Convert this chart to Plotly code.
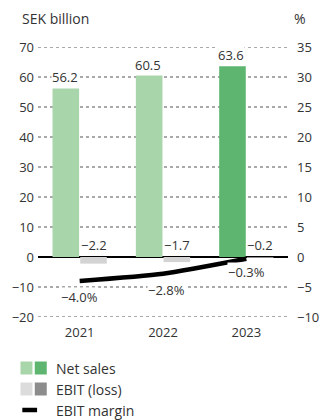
import plotly.graph_objects as go

years = ["2021", "2022", "2023"]
net_sales = [56.2, 60.5, 63.6]
ebit = [-2.2, -1.7, -0.2]
ebit_margin = [-4.0, -2.8, -0.3]
left_ticks = list(range(-20, 71, 10))
right_ticks = list(range(-10, 36, 5))

net_sales_colors = ["#a9d5aa", "#a9d5aa", "#5db56f"]
ebit_colors = ["#d3d3d3", "#d3d3d3", "#8c8c8c"]

W, H = 331, 420
L, R, T, B = 31, 29, 47, 103
PW, PH = W - L - R, H - T - B

FONT = "Open Sans, sans-serif"
TXT = "#333333"


def px(x):
    return (x - L) / PW


def py(y):
    return (H - B - y) / PH


def fmt(v, suffix=""):
    s = f"{abs(v):.1f}{suffix}"
    return ("\u2212" + s) if v < 0 else s


fig = go.Figure()

fig.add_trace(go.Bar(
    x=years, y=net_sales, marker=dict(color=net_sales_colors, line=dict(width=0)),
    offsetgroup="ns", name="Net sales", showlegend=False,
))
fig.add_trace(go.Bar(
    x=years, y=ebit, marker=dict(color=ebit_colors, line=dict(width=0)),
    offsetgroup="ebit", name="EBIT (loss)", showlegend=False,
))
fig.add_trace(go.Scatter(
    x=years, y=ebit_margin, yaxis="y2", mode="lines",
    line=dict(color="black", width=4.5, shape="spline", smoothing=0.6),
    name="EBIT margin", showlegend=False,
))

lab_font = dict(size=13, color=TXT, family=FONT)

# Net sales value labels above each bar (white box hides the grid behind)
for i, v in enumerate(net_sales):
    fig.add_annotation(
        x=i, y=v, text=fmt(v), showarrow=False, xshift=-15, yanchor="bottom",
        yshift=1, font=lab_font, bgcolor="white", borderpad=0,
    )

# EBIT value labels just above the zero line, over each EBIT bar
for i, v in enumerate(ebit):
    fig.add_annotation(
        x=i, y=0, text=fmt(v), showarrow=False, xshift=14, yanchor="bottom",
        yshift=1, font=lab_font,
    )

# EBIT margin labels below the line
margin_shift = [(0, -16), (3, -16), (0, -13)]
for i, v in enumerate(ebit_margin):
    fig.add_annotation(
        x=i, y=v, yref="y2", text=fmt(v, "%"), showarrow=False,
        xshift=margin_shift[i][0], yshift=margin_shift[i][1],
        font=lab_font, bgcolor="white", borderpad=0,
    )

# Axis unit captions
fig.add_annotation(x=px(12), y=py(18), xref="paper", yref="paper", text="SEK billion",
                   showarrow=False, xanchor="left", yanchor="middle",
                   font=dict(size=14, color=TXT, family=FONT))
fig.add_annotation(x=px(324), y=py(18), xref="paper", yref="paper", text="%",
                   showarrow=False, xanchor="right", yanchor="middle",
                   font=dict(size=14, color=TXT, family=FONT))

shapes = []

# Dotted horizontal grid, kept underneath the bars
for t in left_ticks:
    if t == 0:
        continue
    shapes.append(dict(type="line", xref="paper", yref="y", x0=0, x1=1, y0=t, y1=t,
                       layer="between", line=dict(color="#555555", width=1, dash="dot")))

# Legend drawn below the plot
legend_rows = [
    ("Net sales", ["#a9d5aa", "#5db56f"], 368),
    ("EBIT (loss)", ["#dcdcdc", "#8c8c8c"], 389),
]
for label, cols, yc in legend_rows:
    for j, c in enumerate(cols):
        x0 = 12 + j * 15.5
        shapes.append(dict(type="rect", xref="paper", yref="paper",
                           x0=px(x0), x1=px(x0 + 13), y0=py(yc + 6.5), y1=py(yc - 6.5),
                           fillcolor=c, line=dict(width=0)))
    fig.add_annotation(x=px(48), y=py(yc), xref="paper", yref="paper", text=label,
                       showarrow=False, xanchor="left", yanchor="middle",
                       font=dict(size=14, color=TXT, family=FONT))
shapes.append(dict(type="line", xref="paper", yref="paper",
                   x0=px(14), x1=px(30), y0=py(410), y1=py(410),
                   line=dict(color="black", width=4.5)))
fig.add_annotation(x=px(48), y=py(410), xref="paper", yref="paper", text="EBIT margin",
                   showarrow=False, xanchor="left", yanchor="middle",
                   font=dict(size=14, color=TXT, family=FONT))

fig.update_layout(
    width=W, height=H,
    margin=dict(l=L, r=R, t=T, b=B, pad=0),
    paper_bgcolor="white", plot_bgcolor="rgba(0,0,0,0)",
    barmode="group", bargap=0.335, bargroupgap=0.04,
    font=dict(family=FONT, size=13, color=TXT),
    shapes=shapes,
    xaxis=dict(
        type="category", showgrid=False, showline=False, ticks="",
        tickfont=dict(size=13, color=TXT), ticklabelstandoff=6,
    ),
    yaxis=dict(
        range=[-20, 70], tickvals=left_ticks,
        showgrid=False,
        zeroline=True, zerolinecolor="black", zerolinewidth=2,
        showline=False, ticks="", tickfont=dict(size=13, color=TXT),
        ticklabelstandoff=3,
    ),
    yaxis2=dict(
        range=[-10, 35], tickvals=right_ticks, overlaying="y",
        side="right", showgrid=False, zeroline=False, showline=False, ticks="",
        tickfont=dict(size=13, color=TXT), ticklabelstandoff=8,
    ),
)

fig.write_html("out.html")
